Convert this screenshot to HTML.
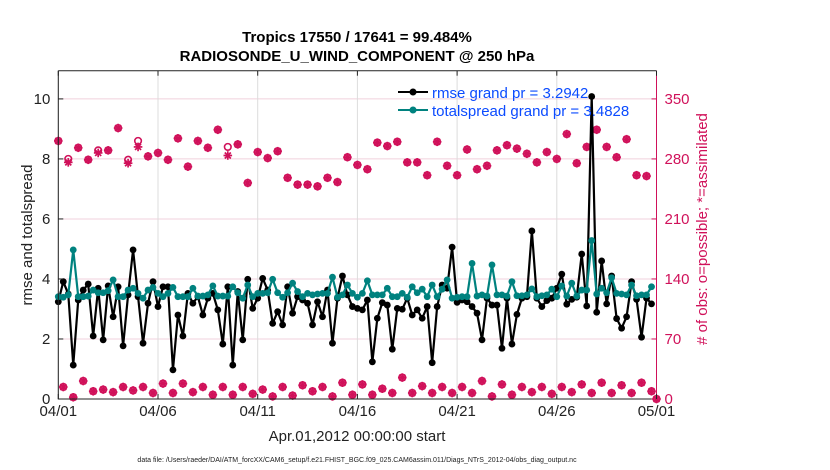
<!DOCTYPE html>
<html><head><meta charset="utf-8"><style>
body{margin:0;background:#fff}
svg{display:block;font-family:"Liberation Sans",sans-serif}
</style></head><body>
<svg id="chart" width="830" height="470" viewBox="0 0 830 470">
<text x="357" y="42" font-size="15" font-weight="bold" text-anchor="middle">Tropics 17550 / 17641 = 99.484%</text>
<text x="357" y="61" font-size="15" font-weight="bold" text-anchor="middle">RADIOSONDE_U_WIND_COMPONENT @ 250 hPa</text>
<g id="grid"></g>
<g id="marks"></g>
<g id="axes"></g>
<text transform="translate(32,235) rotate(-90)" font-size="15" text-anchor="middle" fill="#222">rmse and totalspread</text>
<text transform="translate(707,229) rotate(-90)" font-size="15" text-anchor="middle" fill="#d0115a"># of obs: o=possible; *=assimilated</text>
<text x="357" y="441" font-size="15" text-anchor="middle" fill="#222">Apr.01,2012 00:00:00 start</text>
<text x="357" y="462" font-size="7" text-anchor="middle" fill="#222">data file: /Users/raeder/DAI/ATM_forcXX/CAM6_setup/f.e21.FHIST_BGC.f09_025.CAM6assim.011/Diags_NTrS_2012-04/obs_diag_output.nc</text>
<g>
<line x1="398" y1="92" x2="428" y2="92" stroke="#000" stroke-width="2"/><circle cx="413" cy="92" r="3.5" fill="#000"/>
<text x="432" y="98" font-size="15" fill="#0b4bff">rmse grand pr = 3.2942</text>
<line x1="398" y1="110" x2="428" y2="110" stroke="#00827f" stroke-width="2"/><circle cx="413" cy="110" r="3.5" fill="#00827f"/>
<text x="432" y="116" font-size="15" fill="#0b4bff">totalspread grand pr = 3.4828</text>
</g>
</svg>
<script>
const rmse=[3.24,3.91,3.5,1.13,3.3,3.63,3.83,2.1,3.69,1.97,3.77,2.74,3.74,1.77,3.47,4.97,3.41,1.86,3.19,3.91,3.08,3.74,3.74,0.97,2.8,2.1,3.52,3.19,3.41,2.8,3.36,3.52,2.97,1.83,3.74,1.13,3.58,1.97,3.99,3.02,3.36,
4.02,3.63,2.52,2.91,2.47,3.74,2.86,3.41,3.3,3.19,2.47,3.24,2.74,3.63,1.86,3.36,4.1,3.47,3.08,3.02,2.97,3.3,1.24,2.69,3.21,3.13,1.66,3.02,2.99,3.36,2.8,2.97,2.69,3.08,1.21,3.08,3.8,3.69,5.06,3.22,
3.3,3.24,3.08,2.86,1.97,3.36,3.13,3.13,1.69,3.36,1.83,2.82,3.36,3.41,5.6,3.36,3.08,3.28,3.36,3.69,4.16,3.16,3.32,3.39,4.83,3.1,10.08,2.89,4.6,3.17,4.1,2.68,2.36,2.74,3.91,3.32,2.06,3.36,3.17];
const spread=[3.41,3.39,3.47,4.97,3.41,3.41,3.43,3.63,3.54,3.54,3.61,3.97,3.41,3.41,3.63,3.69,3.52,3.36,3.63,3.72,3.52,3.41,3.52,3.72,3.41,3.41,3.41,3.69,3.43,3.43,3.47,3.77,3.43,3.43,3.43,3.74,3.54,3.36,3.8,3.41,3.52,
3.52,3.54,3.99,3.54,3.39,3.54,3.86,3.58,3.41,3.52,3.47,3.5,3.52,3.52,4.06,3.39,3.47,3.8,3.52,3.39,3.52,3.94,3.47,3.47,3.47,3.69,3.41,3.41,3.52,3.39,3.74,3.54,3.66,3.41,3.8,3.41,3.66,3.97,3.36,3.39,
3.41,3.41,4.52,3.43,3.47,3.43,4.47,3.47,3.47,3.43,3.91,3.44,3.44,3.47,3.67,3.41,3.44,3.47,3.66,3.41,3.77,3.43,3.86,3.43,3.63,3.63,5.28,3.5,3.69,3.54,4.04,3.52,3.5,3.47,3.8,3.44,3.47,3.47,3.74];
const obsPossible=[301,14,280,2,293,21,279,9,290,11,290,8,316,14,279,10,301,14,283,7,287,18,279,7,304,18,271,8,301,14,293,5,314,14,294,5,297,14,252,6,288,
11,281,3,289,14,258,4,250,16,250,9,248,14,258,3,253,19,282,5,273,17,268,5,299,12,295,7,300,25,276,7,276,15,261,7,300,14,272,7,261,
14,291,7,268,21,272,3,290,17,296,5,292,14,286,8,276,14,288,6,280,14,309,8,275,17,294,7,314,19,294,7,282,16,303,7,261,19,260,9,0];
const obsUsed=obsPossible.slice();
obsUsed[2]=276;obsUsed[8]=287;obsUsed[14]=275;obsUsed[16]=294;obsUsed[34]=284;
const leftTicks=[0,2,4,6,8,10];
const rightTicks=[0,70,140,210,280,350];
const dayTicks=[0,5,10,15,20,25,30];
const dayLabels=["04/01","04/06","04/11","04/16","04/21","04/26","05/01"];

const NS="http://www.w3.org/2000/svg";
const X0=58.3,X1=656.5,Y0=399,Y1=70.7,YMAX=10.94,RMAX=YMAX*35;
const xDay=d=>X0+(X1-X0)*d/30;
const xIdx=i=>xDay(i/4);
const yL=v=>Y0-(Y0-Y1)*v/YMAX;
const yR=v=>Y0-(Y0-Y1)*v/RMAX;
function mk(tag,attrs,parent){const e=document.createElementNS(NS,tag);for(const k in attrs)e.setAttribute(k,attrs[k]);parent.appendChild(e);return e;}
const grid=document.getElementById('grid'),marks=document.getElementById('marks'),axes=document.getElementById('axes');
leftTicks.forEach(v=>{const l=mk('line',{x1:X0,x2:X1,y1:yL(v),y2:yL(v),stroke:'#f0d0dc','stroke-width':1},grid);

});
dayTicks.forEach(d=>{const l=mk('line',{x1:xDay(d),x2:xDay(d),y1:Y1,y2:Y0,stroke:'#dcdcdc','stroke-width':1},grid);

});
const C='#d0115a';
function obsMarker(x,y,kind){
 if(kind==='o'){const c=mk('circle',{cx:x,cy:y,r:3.3,fill:'none',stroke:C,'stroke-width':1.6},marks);
  
  }
 else{const g=mk('g',{stroke:C,'stroke-width':1.7},marks);
  
  
  const r=4.3;
  mk('line',{x1:x-r,x2:x+r,y1:y,y2:y},g);mk('line',{x1:x,x2:x,y1:y-r,y2:y+r},g);
  mk('line',{x1:x-r*.7,x2:x+r*.7,y1:y-r*.7,y2:y+r*.7},g);mk('line',{x1:x-r*.7,x2:x+r*.7,y1:y+r*.7,y2:y-r*.7},g);}
}
obsPossible.forEach((v,i)=>obsMarker(xIdx(i),yR(v),'o'));
obsUsed.forEach((v,i)=>obsMarker(xIdx(i),yR(v),'*'));
function series(arr,color,name){
 const p=mk('polyline',{points:arr.map((v,i)=>xIdx(i)+','+yL(v)).join(' '),fill:'none',stroke:color,'stroke-width':2.2,'stroke-linejoin':'round'},marks);
 
 
 arr.forEach((v,i)=>{const c=mk('circle',{cx:xIdx(i),cy:yL(v),r:3.4,fill:color},marks);
  
  });
}
series(rmse,'#000','rmse');
series(spread,'#00827f','totalspread');
// axes
const frame=mk('path',{d:`M${X0},${Y1}H${X1}M${X0},${Y1}V${Y0}H${X1}`,stroke:'#222',fill:'none','stroke-width':1},axes);


const ra=mk('line',{x1:X1,x2:X1,y1:Y1,y2:Y0,stroke:C,'stroke-width':1},axes);


leftTicks.forEach(v=>{mk('line',{x1:X0,x2:X0+5,y1:yL(v),y2:yL(v),stroke:'#222'},axes);
 const t=mk('text',{x:X0-8,y:yL(v)+5,'font-size':15,'text-anchor':'end',fill:'#222'},axes);t.textContent=v;
 
 });
rightTicks.forEach(v=>{mk('line',{x1:X1-5,x2:X1,y1:yR(v),y2:yR(v),stroke:C},axes);
 const t=mk('text',{x:X1+8,y:yR(v)+5,'font-size':15,'text-anchor':'start',fill:C},axes);t.textContent=v;
 
 });
dayTicks.forEach((d,k)=>{mk('line',{x1:xDay(d),x2:xDay(d),y1:Y0,y2:Y0-5,stroke:'#222'},axes);
 mk('line',{x1:xDay(d),x2:xDay(d),y1:Y1,y2:Y1+5,stroke:'#222'},axes);
 const t=mk('text',{x:xDay(d),y:416,'font-size':15,'text-anchor':'middle',fill:'#222'},axes);t.textContent=dayLabels[k];
 
 });
</script>
</body></html>
